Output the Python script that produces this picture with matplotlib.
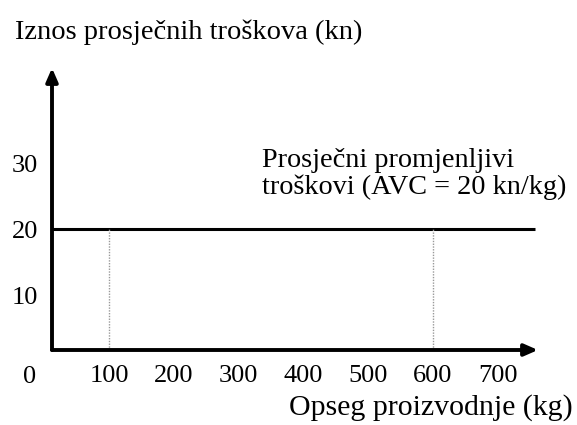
import matplotlib.pyplot as plt

plt.rcParams['font.family'] = ['Liberation Serif', 'DejaVu Serif']

# data
avc = 20
marked_q = [100, 600]
x_ticks = [100, 200, 300, 400, 500, 600, 700]
y_ticks = [10, 20, 30]

# the drawn axes do not cross exactly at (0, 0) in the original sketch
axis_x, axis_y = 12, 1.7
x_max, y_max = 762, 44.4
line_end = 757

fig = plt.figure(figsize=(5.77, 4.25), dpi=100)
W, H = 577, 425
ax = fig.add_axes([52 / W, 75 / H, (538 - 52) / W, (350 - 68) / H])
ax.set_xlim(axis_x, x_max)
ax.set_ylim(axis_y, y_max)
for s in ax.spines.values():
    s.set_visible(False)

# axes as arrows
arr = dict(arrowstyle='-|>,head_length=0.8,head_width=0.35', color='black', lw=2.8,
           shrinkA=0, shrinkB=0)
ax.annotate('', xy=(x_max, axis_y), xytext=(axis_x, axis_y), arrowprops=arr, annotation_clip=False)
ax.annotate('', xy=(axis_x, y_max), xytext=(axis_x, axis_y), arrowprops=arr, annotation_clip=False)

# AVC line
ax.plot([axis_x, line_end], [avc, avc], color='black', lw=2.2, solid_capstyle='butt', clip_on=False)
for q in marked_q:
    ax.plot([q, q], [axis_y, avc], color='#999999', lw=1.0, ls=(0, (1, 1)))

ax.set_xticks(x_ticks)
ax.set_yticks(y_ticks)
ax.tick_params(length=0, labelsize=19)
ax.tick_params(axis='x', pad=11)
ax.tick_params(axis='y', pad=10)
ax.text(-22, axis_y, '0', fontsize=19, ha='center', va='top', clip_on=False)
ax.texts[-1].set_position((-22, axis_y - 16 / 6.6))

fig.text(15 / W, 1 - 32 / H, 'Iznos prosječnih troškova (kn)', fontsize=20.5, va='center', ha='left')
fig.text(573 / W, 1 - 408 / H, 'Opseg proizvodnje (kg)', fontsize=21.5, va='center', ha='right')
fig.text(262 / W, 1 - 174 / H, 'Prosječni promjenljivi\ntroškovi (AVC = 20 kn/kg)',
         fontsize=20.3, va='center', ha='left', linespacing=1.05)

fig.savefig('out.png', dpi=100)
